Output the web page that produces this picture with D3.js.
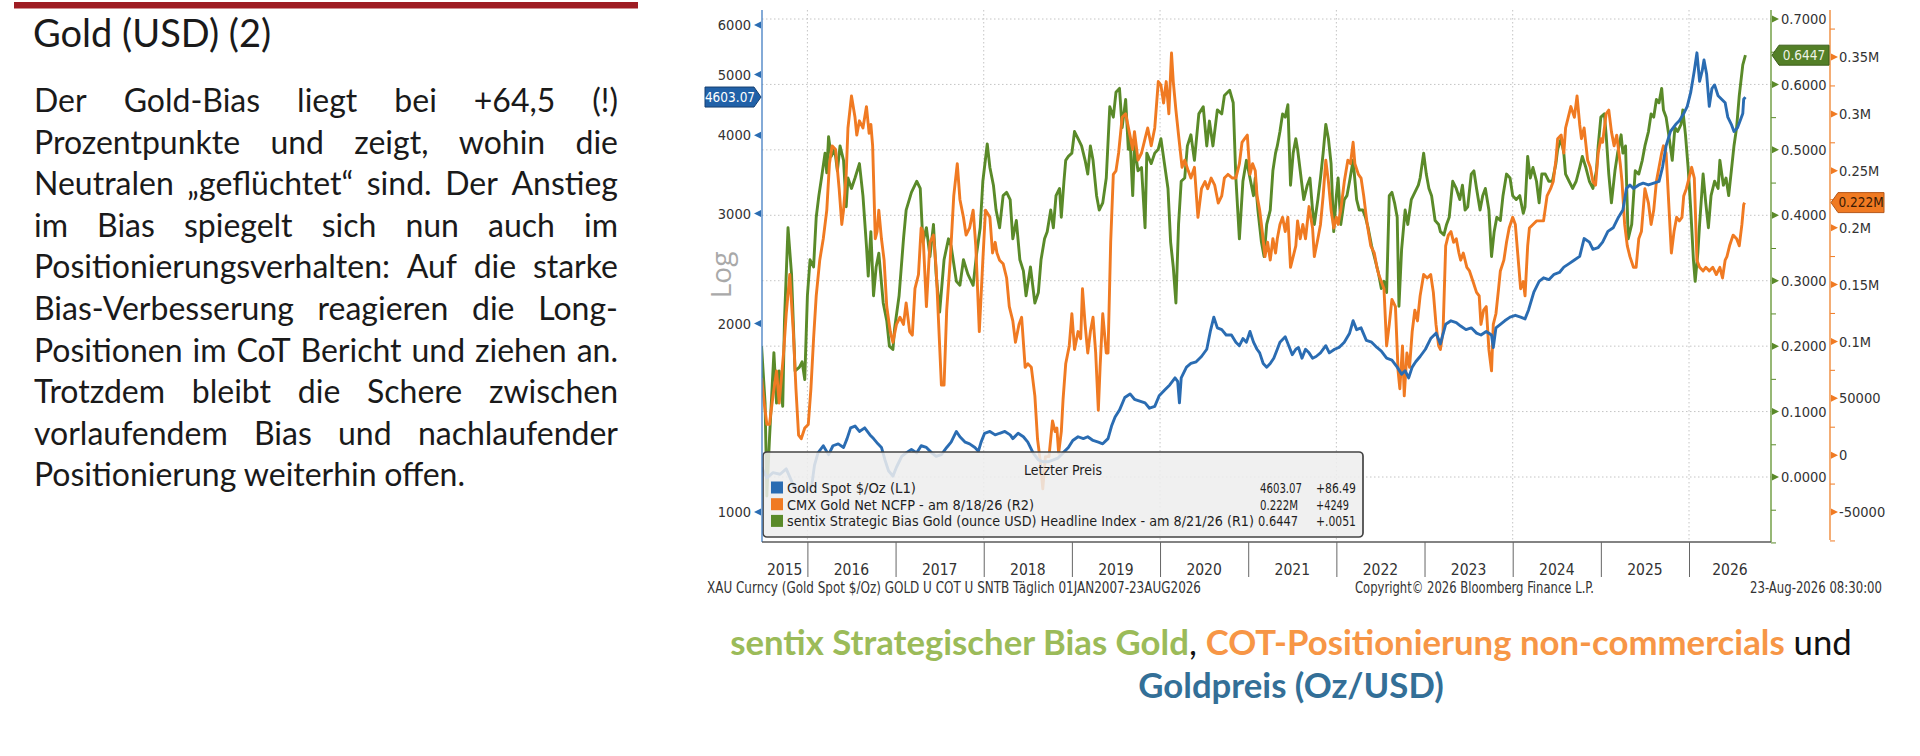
<!DOCTYPE html>
<html>
<head>
<meta charset="utf-8">
<script src="https://cdn.jsdelivr.net/npm/d3@7"></script>
<style>
  body { margin: 0; background: #fff; width: 1920px; height: 756px; overflow: hidden; }
  svg { display: block; }
</style>
</head>
<body>
<svg id="chart" width="1920" height="756"></svg>
<script>
// ---- text content ----
const titleText = "Gold (USD) (2)";
const paragraphLines = [
  "Der Gold-Bias liegt bei +64,5 (!)",
  "Prozentpunkte und zeigt, wohin die",
  "Neutralen \u201Egeflüchtet\u201C sind. Der Anstieg",
  "im Bias spiegelt sich nun auch im",
  "Positionierungsverhalten: Auf die starke",
  "Bias-Verbesserung reagieren die Long-",
  "Positionen im CoT Bericht und ziehen an.",
  "Trotzdem bleibt die Schere zwischen",
  "vorlaufendem Bias und nachlaufender",
  "Positionierung weiterhin offen."
];

// ---- axis ticks / labels ----
const goldTicks = [1000, 2000, 3000, 4000, 5000, 6000];
const biasTicks = [0, 0.1, 0.2, 0.3, 0.4, 0.5, 0.6, 0.7];
const biasMinor = [-0.1, -0.05, 0.05, 0.15, 0.25, 0.35, 0.45, 0.55, 0.65];
const cotTicks = [-50, 0, 50, 100, 150, 200, 250, 300, 350];          // thousand contracts
const cotTickLabels = ["-50000", "0", "50000", "0.1M", "0.15M", "0.2M", "0.25M", "0.3M", "0.35M"];
const cotMinor = [-75, -25, 25, 75, 125, 175, 225, 275, 325, 375];
const yearStarts = [2016, 2017, 2018, 2019, 2020, 2021, 2022, 2023, 2024, 2025, 2026];
const yearLabels = ["2015", "2016", "2017", "2018", "2019", "2020", "2021", "2022", "2023", "2024", "2025", "2026"];
const gridYears = [2016, 2018, 2020, 2022, 2024, 2026];

// ---- legend ----
const legendLabels = [
  "Gold Spot $/Oz  (L1)",
  "CMX Gold Net NCFP -  am 8/18/26  (R2)",
  "sentix Strategic Bias Gold (ounce USD) Headline Index -  am 8/21/26  (R1)"
];
const legendValues = ["4603.07", "0.222M", "0.6447"];
const legendChanges = ["+86.49", "+4249", "+.0051"];
const lastGold = 4603.07, lastCot = 222.0, lastBias = 0.6447;

// ---- series: [decimal year, value] ----
// Gold spot $/oz (left, log)
const goldSeries = [
[2015.48,1179],[2015.54,1134],[2015.61,1156],[2015.69,1149],[2015.76,1172],[2015.84,1104],[2015.91,1076],[2015.99,1083],[2016.05,1104],[2016.08,1187],[2016.12,1243],[2016.18,1276],[2016.24,1235],[2016.29,1276],[2016.35,1285],[2016.41,1268],[2016.45,1310],[2016.49,1363],[2016.54,1372],[2016.59,1345],[2016.65,1363],[2016.71,1328],[2016.75,1310],[2016.80,1285],[2016.84,1268],[2016.88,1211],[2016.92,1164],[2016.97,1141],[2017.01,1179],[2017.07,1227],[2017.12,1243],[2017.18,1259],[2017.24,1243],[2017.29,1276],[2017.35,1268],[2017.41,1243],[2017.46,1227],[2017.52,1235],[2017.58,1268],[2017.63,1293],[2017.69,1345],[2017.73,1319],[2017.79,1293],[2017.84,1285],[2017.90,1268],[2017.94,1251],[2017.97,1293],[2018.01,1336],[2018.07,1345],[2018.13,1328],[2018.18,1336],[2018.24,1345],[2018.30,1328],[2018.33,1310],[2018.39,1336],[2018.45,1319],[2018.50,1293],[2018.56,1243],[2018.62,1211],[2018.67,1203],[2018.73,1203],[2018.79,1211],[2018.84,1219],[2018.90,1243],[2018.96,1268],[2019.01,1301],[2019.07,1319],[2019.13,1310],[2019.18,1319],[2019.24,1301],[2019.30,1293],[2019.35,1285],[2019.41,1310],[2019.45,1372],[2019.49,1418],[2019.54,1455],[2019.60,1524],[2019.66,1544],[2019.71,1514],[2019.77,1504],[2019.83,1494],[2019.88,1465],[2019.94,1475],[2019.99,1534],[2020.05,1565],[2020.11,1596],[2020.17,1638],[2020.20,1617],[2020.22,1494],[2020.24,1638],[2020.30,1704],[2020.35,1727],[2020.41,1738],[2020.47,1772],[2020.53,1820],[2020.57,1943],[2020.61,2048],[2020.65,1969],[2020.70,1956],[2020.75,1918],[2020.81,1918],[2020.86,1868],
[2020.90,1844],[2020.94,1893],[2020.98,1868],[2021.02,1943],[2021.06,1868],[2021.10,1820],[2021.13,1796],[2021.17,1727],[2021.21,1704],[2021.25,1727],[2021.29,1761],[2021.33,1820],[2021.36,1868],[2021.42,1905],[2021.46,1844],[2021.50,1784],[2021.54,1820],[2021.57,1832],[2021.61,1761],[2021.65,1820],[2021.69,1796],[2021.73,1761],[2021.77,1772],[2021.82,1796],[2021.88,1844],[2021.92,1796],[2021.98,1820],[2022.03,1832],[2022.09,1868],[2022.15,1931],[2022.19,2021],[2022.23,1956],[2022.28,1969],[2022.34,1880],[2022.40,1868],[2022.46,1832],[2022.51,1808],[2022.57,1761],[2022.63,1749],[2022.69,1704],[2022.74,1660],[2022.78,1682],[2022.82,1638],[2022.86,1704],[2022.90,1738],[2022.95,1772],[2023.01,1820],[2023.07,1893],[2023.13,1931],[2023.18,1856],[2023.24,1995],[2023.30,2021],[2023.36,2008],[2023.41,1982],[2023.47,1956],[2023.53,1969],[2023.59,1931],[2023.64,1918],[2023.70,1943],[2023.76,1918],[2023.78,1832],[2023.81,1969],[2023.86,1995],[2023.91,2021],[2023.97,2048],[2024.03,2062],[2024.09,2048],[2024.14,2035],[2024.18,2103],[2024.24,2246],[2024.30,2336],[2024.35,2367],[2024.41,2351],[2024.47,2398],[2024.53,2414],[2024.58,2462],[2024.64,2494],[2024.70,2527],[2024.76,2561],[2024.81,2735],[2024.87,2699],[2024.91,2629],[2024.97,2646],[2025.02,2699],[2025.08,2808],[2025.14,2845],[2025.20,2959],[2025.25,3038],[2025.29,3287],[2025.33,3331],[2025.37,3287],[2025.43,3331],[2025.48,3353],[2025.54,3331],[2025.60,3353],[2025.66,3375],[2025.70,3557],[2025.74,3848],[2025.79,4056],[2025.85,4164],[2025.89,4219],[2025.94,4332],[2025.98,4447],[2026.02,4687],[2026.06,5072],[2026.09,5416],[2026.12,4876],[2026.15,5072],[2026.17,5276],[2026.20,5005],[2026.23,4447],[2026.26,4750],[2026.29,4813],[2026.33,4626],[2026.37,4566],[2026.41,4506],[2026.44,4275],[2026.48,4164],[2026.51,4056],[2026.55,4110],[2026.58,4219],[2026.61,4332],[2026.62,4566],[2026.64,4603.07]
];

// CMX gold net non-commercial positions, thousand contracts (right 2)
const cotSeries = [
[2015.48,67.8],[2015.51,45.8],[2015.54,27.0],[2015.57,27.0],[2015.61,52.1],[2015.65,74.1],[2015.68,45.8],[2015.73,89.8],[2015.76,124.3],[2015.80,158.8],[2015.84,108.6],[2015.87,58.4],[2015.90,17.5],[2015.93,14.4],[2015.97,23.8],[2016.01,27.0],[2016.04,58.4],[2016.07,102.3],[2016.10,140.0],[2016.14,171.4],[2016.18,190.2],[2016.22,215.4],[2016.25,256.2],[2016.28,271.9],[2016.32,268.7],[2016.36,234.2],[2016.39,202.8],[2016.41,215.4],[2016.44,246.8],[2016.46,287.6],[2016.50,315.8],[2016.54,297.0],[2016.56,281.3],[2016.59,293.9],[2016.63,287.6],[2016.67,306.4],[2016.70,282.9],[2016.72,290.7],[2016.74,271.9],[2016.77,190.2],[2016.79,196.5],[2016.81,215.4],[2016.84,190.2],[2016.87,171.4],[2016.90,130.6],[2016.94,108.6],[2016.97,99.2],[2017.01,114.9],[2017.05,121.2],[2017.09,114.9],[2017.12,133.7],[2017.16,108.6],[2017.19,105.5],[2017.22,146.3],[2017.26,158.8],[2017.29,199.7],[2017.31,196.5],[2017.35,130.6],[2017.39,187.1],[2017.43,193.4],[2017.46,165.1],[2017.52,61.5],[2017.55,61.5],[2017.58,127.4],[2017.62,171.4],[2017.66,227.9],[2017.70,256.2],[2017.73,224.8],[2017.77,209.1],[2017.80,193.4],[2017.84,199.7],[2017.88,215.4],[2017.91,184.0],[2017.95,108.6],[2017.99,171.4],[2018.02,215.4],[2018.07,209.1],[2018.10,177.7],[2018.13,187.1],[2018.15,177.7],[2018.18,171.4],[2018.22,168.3],[2018.26,155.7],[2018.29,130.6],[2018.33,118.0],[2018.36,99.2],[2018.40,114.9],[2018.43,121.2],[2018.47,77.2],[2018.50,80.3],[2018.54,77.2],[2018.58,52.1],[2018.61,14.4],[2018.64,-4.4],[2018.67,-29.6],[2018.70,-1.3],[2018.74,-1.3],[2018.78,30.1],[2018.81,20.7],[2018.83,23.8],[2018.85,1.8],[2018.88,20.7],[2018.90,49.0],[2018.93,80.3],[2018.97,96.0],[2019.00,124.3],[2019.03,92.9],[2019.07,108.6],[2019.10,102.3],[2019.12,146.3],[2019.15,114.9],[2019.18,89.8],[2019.21,108.6],[2019.24,121.2],[2019.27,89.8],[2019.30,39.5],[2019.32,77.2],[2019.35,124.3],[2019.39,89.8],[2019.41,89.8],[2019.44,187.1],[2019.47,246.8],[2019.50,249.9],[2019.53,265.6],[2019.57,297.0],[2019.61,300.1],[2019.65,284.4],[2019.69,268.7],[2019.71,284.4],[2019.75,259.3],[2019.79,265.6],[2019.83,278.2],[2019.86,287.6],[2019.90,271.9],[2019.94,287.6],[2019.98,328.4],[2020.01,325.3],[2020.04,309.6],[2020.07,328.4],[2020.10,300.1],[2020.13,353.5],[2020.15,328.4],[2020.18,303.3],[2020.21,281.3],[2020.25,253.0],[2020.28,259.3],[2020.32,249.9],[2020.35,243.6],[2020.39,253.0],[2020.43,209.1],[2020.47,234.2],[2020.51,240.5],[2020.54,234.2],[2020.58,243.6],[2020.62,237.3],[2020.66,221.6],[2020.70,227.9],[2020.73,243.6],[2020.77,246.8],[2020.82,243.6],[2020.86,243.6],
[2020.90,256.2],[2020.93,275.0],[2020.96,278.2],[2020.99,281.3],[2021.02,246.8],[2021.05,256.2],[2021.08,249.9],[2021.10,227.9],[2021.13,215.4],[2021.16,196.5],[2021.19,174.5],[2021.22,187.1],[2021.25,171.4],[2021.28,190.2],[2021.31,177.7],[2021.33,190.2],[2021.36,202.8],[2021.39,209.1],[2021.42,196.5],[2021.45,209.1],[2021.48,165.1],[2021.51,174.5],[2021.54,184.0],[2021.56,205.9],[2021.59,190.2],[2021.62,202.8],[2021.65,190.2],[2021.69,218.5],[2021.73,199.7],[2021.75,174.5],[2021.79,190.2],[2021.82,202.8],[2021.85,227.9],[2021.88,259.3],[2021.91,240.5],[2021.94,215.4],[2021.97,199.7],[2022.00,209.1],[2022.02,202.8],[2022.05,215.4],[2022.09,240.5],[2022.13,259.3],[2022.16,256.2],[2022.19,275.0],[2022.21,256.2],[2022.25,246.8],[2022.28,243.6],[2022.31,227.9],[2022.35,202.8],[2022.39,184.0],[2022.43,177.7],[2022.46,165.1],[2022.48,158.8],[2022.51,152.6],[2022.54,146.3],[2022.57,96.0],[2022.60,114.9],[2022.63,136.9],[2022.67,130.6],[2022.70,74.1],[2022.72,58.4],[2022.75,96.0],[2022.77,52.1],[2022.80,89.8],[2022.83,77.2],[2022.86,108.6],[2022.89,127.4],[2022.92,118.0],[2022.95,140.0],[2022.99,158.8],[2023.03,155.7],[2023.07,158.8],[2023.10,143.1],[2023.13,114.9],[2023.16,96.0],[2023.18,92.9],[2023.21,108.6],[2023.24,184.0],[2023.27,193.4],[2023.30,196.5],[2023.33,187.1],[2023.36,190.2],[2023.39,177.7],[2023.41,171.4],[2023.44,177.7],[2023.48,165.1],[2023.51,161.9],[2023.55,152.6],[2023.59,143.1],[2023.62,140.0],[2023.64,114.9],[2023.67,127.4],[2023.70,130.6],[2023.73,92.9],[2023.76,74.1],[2023.78,114.9],[2023.81,124.3],[2023.84,146.3],[2023.86,161.9],[2023.90,171.4],[2023.93,187.1],[2023.96,199.7],[2024.00,209.1],[2024.03,202.8],[2024.07,165.1],[2024.09,146.3],[2024.12,152.6],[2024.14,140.0],[2024.17,184.0],[2024.19,199.7],[2024.23,202.8],[2024.27,205.9],[2024.31,205.9],[2024.35,205.9],[2024.39,227.9],[2024.43,234.2],[2024.46,240.5],[2024.49,259.3],[2024.51,278.2],[2024.55,281.3],[2024.58,265.6],[2024.60,287.6],[2024.63,297.0],[2024.66,306.4],[2024.70,297.0],[2024.73,315.8],[2024.76,290.7],[2024.78,278.2],[2024.81,287.6],[2024.85,259.3],[2024.88,253.0],[2024.91,240.5],[2024.94,237.3],[2024.97,265.6],[2025.00,278.2],[2025.02,275.0],[2025.06,300.1],[2025.09,303.3],[2025.12,284.4],[2025.15,271.9],[2025.18,281.3],[2025.22,256.2],[2025.24,240.5],[2025.27,202.8],[2025.30,184.0],[2025.33,174.5],[2025.37,165.1],[2025.40,165.1],[2025.43,190.2],[2025.46,196.5],[2025.50,234.2],[2025.54,221.6],[2025.57,202.8],[2025.60,215.4],[2025.63,240.5],[2025.66,253.0],[2025.69,265.6],[2025.71,271.9],[2025.74,265.6],[2025.77,221.6],[2025.80,177.7],[2025.83,196.5],[2025.86,209.1],[2025.89,205.9],[2025.92,209.1],[2025.94,227.9],[2025.97,234.2],[2026.00,243.6],[2026.03,253.0],[2026.06,243.6],[2026.09,171.4],[2026.12,165.1],[2026.16,162.0],[2026.19,165.1],[2026.23,162.0],[2026.27,165.1],[2026.31,158.8],[2026.35,165.1],[2026.38,155.7],[2026.41,171.4],[2026.43,174.5],[2026.46,184.0],[2026.50,193.4],[2026.54,190.2],[2026.57,184.0],[2026.60,202.8],[2026.62,220.1],[2026.63,222.0]
];

// sentix strategic bias gold (right 1)
const biasSeries = [
[2015.48,.200],[2015.52,.113],[2015.54,-.029],[2015.57,.059],[2015.62,.190],[2015.65,.113],[2015.68,.162],[2015.72,.108],[2015.74,.239],[2015.78,.381],[2015.82,.310],[2015.86,.162],[2015.91,.168],[2015.94,.176],[2015.97,.149],[2016.00,.277],[2016.03,.332],[2016.07,.321],[2016.10,.397],[2016.13,.430],[2016.16,.457],[2016.20,.495],[2016.22,.465],[2016.24,.520],[2016.27,.490],[2016.31,.501],[2016.34,.468],[2016.37,.506],[2016.41,.484],[2016.44,.413],[2016.46,.457],[2016.50,.441],[2016.54,.457],[2016.59,.479],[2016.63,.430],[2016.67,.353],[2016.69,.307],[2016.72,.375],[2016.75,.277],[2016.78,.321],[2016.81,.342],[2016.86,.266],[2016.90,.239],[2016.93,.200],[2016.97,.195],[2016.99,.228],[2017.04,.277],[2017.09,.364],[2017.12,.408],[2017.18,.435],[2017.24,.452],[2017.28,.441],[2017.31,.359],[2017.35,.381],[2017.39,.337],[2017.43,.386],[2017.46,.310],[2017.50,.252],[2017.55,.332],[2017.60,.364],[2017.63,.353],[2017.69,.299],[2017.73,.293],[2017.77,.332],[2017.82,.310],[2017.88,.293],[2017.92,.342],[2017.96,.381],[2017.99,.452],[2018.04,.509],[2018.07,.473],[2018.11,.446],[2018.14,.408],[2018.18,.381],[2018.22,.430],[2018.26,.435],[2018.30,.424],[2018.33,.364],[2018.37,.392],[2018.41,.332],[2018.45,.315],[2018.48,.277],[2018.53,.321],[2018.58,.266],[2018.62,.282],[2018.65,.332],[2018.69,.364],[2018.72,.375],[2018.76,.408],[2018.79,.381],[2018.82,.430],[2018.86,.441],[2018.88,.397],[2018.91,.452],[2018.93,.484],[2018.96,.490],[2019.00,.495],[2019.03,.528],[2019.07,.517],[2019.11,.506],[2019.15,.484],[2019.18,.463],[2019.21,.506],[2019.24,.484],[2019.28,.430],[2019.31,.408],[2019.35,.419],[2019.39,.457],[2019.43,.566],[2019.47,.550],[2019.50,.588],[2019.54,.594],[2019.57,.534],[2019.61,.577],[2019.64,.501],[2019.66,.517],[2019.69,.430],[2019.71,.506],[2019.75,.468],[2019.79,.473],[2019.83,.381],[2019.85,.495],[2019.90,.479],[2019.94,.495],[2019.98,.501],[2020.01,.517],[2020.05,.479],[2020.09,.441],[2020.12,.359],[2020.15,.321],[2020.18,.266],[2020.21,.386],[2020.24,.452],[2020.28,.457],[2020.31,.506],[2020.35,.523],[2020.39,.484],[2020.44,.555],[2020.49,.566],[2020.53,.506],[2020.56,.544],[2020.60,.506],[2020.65,.561],[2020.70,.555],[2020.73,.583],[2020.79,.591],[2020.83,.572],[2020.86,.457],
[2020.90,.364],[2020.94,.452],[2020.98,.484],[2021.02,.457],[2021.06,.430],[2021.08,.457],[2021.11,.408],[2021.15,.359],[2021.18,.337],[2021.21,.386],[2021.25,.408],[2021.28,.468],[2021.31,.495],[2021.33,.506],[2021.36,.528],[2021.39,.555],[2021.42,.550],[2021.45,.569],[2021.48,.446],[2021.51,.495],[2021.54,.517],[2021.56,.501],[2021.59,.468],[2021.63,.424],[2021.67,.446],[2021.70,.457],[2021.73,.408],[2021.75,.386],[2021.79,.424],[2021.82,.457],[2021.85,.495],[2021.88,.539],[2021.91,.517],[2021.94,.479],[2021.97,.375],[2022.00,.430],[2022.02,.457],[2022.05,.386],[2022.09,.424],[2022.12,.430],[2022.15,.452],[2022.19,.484],[2022.23,.424],[2022.26,.408],[2022.30,.408],[2022.33,.397],[2022.36,.381],[2022.40,.353],[2022.44,.332],[2022.48,.310],[2022.51,.288],[2022.54,.299],[2022.57,.282],[2022.60,.430],[2022.63,.435],[2022.66,.419],[2022.69,.397],[2022.71,.261],[2022.74,.348],[2022.78,.408],[2022.81,.386],[2022.85,.424],[2022.89,.435],[2022.93,.446],[2022.95,.457],[2022.99,.495],[2023.02,.463],[2023.05,.441],[2023.08,.430],[2023.12,.392],[2023.16,.386],[2023.18,.375],[2023.22,.370],[2023.25,.386],[2023.28,.397],[2023.32,.452],[2023.36,.441],[2023.40,.424],[2023.43,.446],[2023.46,.408],[2023.49,.413],[2023.53,.463],[2023.56,.468],[2023.59,.441],[2023.63,.408],[2023.66,.430],[2023.69,.441],[2023.73,.408],[2023.76,.337],[2023.79,.375],[2023.82,.397],[2023.86,.392],[2023.89,.430],[2023.93,.463],[2023.97,.457],[2024.00,.430],[2024.04,.424],[2024.08,.430],[2024.12,.403],[2024.14,.413],[2024.17,.490],[2024.20,.457],[2024.23,.473],[2024.27,.452],[2024.30,.419],[2024.33,.463],[2024.37,.463],[2024.41,.452],[2024.45,.452],[2024.49,.479],[2024.51,.501],[2024.55,.517],[2024.58,.495],[2024.60,.463],[2024.64,.452],[2024.68,.441],[2024.72,.452],[2024.76,.473],[2024.79,.490],[2024.83,.473],[2024.87,.452],[2024.91,.441],[2024.95,.468],[2024.97,.506],[2025.00,.550],[2025.04,.555],[2025.06,.523],[2025.09,.463],[2025.12,.419],[2025.16,.468],[2025.19,.495],[2025.23,.523],[2025.25,.495],[2025.28,.506],[2025.31,.364],[2025.35,.386],[2025.39,.468],[2025.43,.463],[2025.47,.484],[2025.50,.506],[2025.54,.528],[2025.57,.555],[2025.60,.550],[2025.63,.577],[2025.66,.572],[2025.69,.594],[2025.71,.561],[2025.74,.550],[2025.77,.523],[2025.81,.484],[2025.84,.534],[2025.87,.528],[2025.91,.539],[2025.93,.561],[2025.96,.523],[2025.99,.473],[2026.02,.408],[2026.05,.332],[2026.07,.299],[2026.10,.342],[2026.12,.386],[2026.16,.463],[2026.19,.419],[2026.22,.381],[2026.25,.430],[2026.29,.452],[2026.33,.441],[2026.35,.484],[2026.39,.446],[2026.42,.457],[2026.45,.430],[2026.48,.468],[2026.51,.506],[2026.54,.534],[2026.57,.583],[2026.61,.630],[2026.64,.6447]
];

// ---- colours / fonts ----
const cGold = "#2a6cb2", cCot = "#f07a22", cBias = "#5a8a29";
const bbFont = "'Liberation Sans Narrow', 'Arial Narrow', 'DejaVu Sans Condensed', 'Liberation Sans', sans-serif";
const bodyFont = "Lato, 'Open Sans', sans-serif";

const svg = d3.select("#chart");
const plot = { left: 762, right: 1771, top: 10, bottom: 542 };

// ---- scales ----
const x = d3.scaleLinear().domain([2015.485, 2026.93]).range([plot.left, plot.right]);
const yGold = d3.scaleLog().domain([1000, 6000]).range([512, 25]);
const yBias = d3.scaleLinear().domain([0, 0.7]).range([477, 19]);
const yCot = d3.scaleLinear().domain([-50, 350]).range([512, 57]);

// ================= left text block =================
svg.append("rect").attr("x", 14).attr("y", 2).attr("width", 624).attr("height", 6.5).attr("fill", "#9e1c23");
svg.append("text").attr("x", 33).attr("y", 47)
  .attr("font-family", bodyFont).attr("font-size", 38).attr("fill", "#1a1a1a")
  .text(titleText);

const textLeft = 34, textRight = 618;
paragraphLines.forEach((line, i) => {
  const y = 112 + i * 41.6;
  const words = line.split(" ");
  const g = svg.append("g").attr("font-family", bodyFont).attr("font-size", 32).attr("fill", "#1a1a1a");
  const nodes = words.map(w => g.append("text").attr("y", y).text(w));
  const widths = nodes.map(n => n.node().getComputedTextLength());
  const justify = i < paragraphLines.length - 1;
  const gap = justify ? (textRight - textLeft - d3.sum(widths)) / (words.length - 1) : 7.5;
  let cx = textLeft;
  nodes.forEach((n, j) => { n.attr("x", cx); cx += widths[j] + gap; });
});

// ================= grid =================
const grid = svg.append("g").attr("stroke", "#c4c4c4").attr("stroke-width", 1).attr("stroke-dasharray", "1.5,2.5");
grid.selectAll("line.h").data(biasTicks).join("line")
  .attr("x1", plot.left).attr("x2", plot.right)
  .attr("y1", d => yBias(d)).attr("y2", d => yBias(d));
grid.selectAll("line.v").data(gridYears).join("line")
  .attr("x1", d => x(d)).attr("x2", d => x(d))
  .attr("y1", plot.top).attr("y2", plot.bottom);

// ================= series =================
svg.append("clipPath").attr("id", "plotClip").append("rect")
  .attr("x", plot.left).attr("y", plot.top)
  .attr("width", plot.right - plot.left).attr("height", plot.bottom - plot.top);
const series = svg.append("g").attr("clip-path", "url(#plotClip)")
  .attr("fill", "none").attr("stroke-width", 2.9).attr("stroke-linejoin", "round");
series.append("path").datum(biasSeries).attr("stroke", cBias)
  .attr("d", d3.line().x(d => x(d[0])).y(d => yBias(d[1])));
series.append("path").datum(cotSeries).attr("stroke", cCot)
  .attr("d", d3.line().x(d => x(d[0])).y(d => yCot(d[1])));
series.append("path").datum(goldSeries).attr("stroke", cGold)
  .attr("d", d3.line().x(d => x(d[0])).y(d => yGold(d[1])));

// ================= legend =================
const lg = svg.append("g").attr("font-family", bbFont).attr("font-size", 14).attr("fill", "#1e1e1e");
lg.append("rect").attr("x", 763).attr("y", 452).attr("width", 600).attr("height", 85).attr("rx", 4)
  .attr("fill", "#ededed").attr("fill-opacity", 0.86).attr("stroke", "#444").attr("stroke-width", 1.7);
lg.append("text").attr("x", 1063).attr("y", 475).attr("text-anchor", "middle").attr("textLength", 78)
  .attr("lengthAdjust", "spacingAndGlyphs").text("Letzter Preis");
const legendColors = [cGold, cCot, cBias];
const labelWidths = [129, 247, 467];
const valueWidths = [42, 38, 40];
const changeWidths = [40, 33, 40];
legendLabels.forEach((lab, i) => {
  const by = 493 + i * 16.7;
  lg.append("rect").attr("x", 771).attr("y", by - 11.5).attr("width", 12).attr("height", 12).attr("fill", legendColors[i]);
  lg.append("text").attr("x", 787).attr("y", by).attr("textLength", labelWidths[i]).attr("lengthAdjust", "spacingAndGlyphs").text(lab);
  lg.append("text").attr("x", i === 2 ? 1258 : 1260).attr("y", by).attr("textLength", valueWidths[i])
    .attr("lengthAdjust", "spacingAndGlyphs").text(legendValues[i]);
  lg.append("text").attr("x", 1316).attr("y", by).attr("textLength", changeWidths[i])
    .attr("lengthAdjust", "spacingAndGlyphs").text(legendChanges[i]);
});

// ================= axes =================
const tickText = sel => sel.selectAll("text").attr("font-family", bbFont).attr("font-size", 14.5).attr("fill", "#333");

// left gold axis (log)
const axL = svg.append("g").attr("transform", `translate(${plot.left},0)`)
  .call(d3.axisLeft(yGold).tickValues(goldTicks).tickFormat(d3.format("d")).tickSize(0).tickPadding(11));
axL.select(".domain").remove();
tickText(axL);
svg.append("line").attr("x1", plot.left).attr("x2", plot.left).attr("y1", plot.top).attr("y2", plot.bottom)
  .attr("stroke", "#4f86c6").attr("stroke-width", 1.4);
svg.append("g").selectAll("path").data(goldTicks).join("path")
  .attr("d", d => `M${plot.left - 8},${yGold(d)} L${plot.left - 1},${yGold(d) - 3.5} L${plot.left - 1},${yGold(d) + 3.5} Z`)
  .attr("fill", "#2b6db3");

// right bias axis
const axB = svg.append("g").attr("transform", `translate(${plot.right},0)`)
  .call(d3.axisRight(yBias).tickValues(biasTicks).tickFormat(d3.format(".4f")).tickSize(0).tickPadding(10));
axB.select(".domain").remove();
tickText(axB);
const axBm = svg.append("g").attr("transform", `translate(${plot.right},0)`)
  .call(d3.axisRight(yBias).tickValues(biasMinor).tickFormat("").tickSize(5));
axBm.select(".domain").remove();
axBm.selectAll("line").attr("stroke", cBias);
svg.append("line").attr("x1", plot.right).attr("x2", plot.right).attr("y1", plot.top).attr("y2", plot.bottom)
  .attr("stroke", "#6a9a3c").attr("stroke-width", 1.4);
svg.append("g").selectAll("path").data(biasTicks).join("path")
  .attr("d", d => `M${plot.right + 8},${yBias(d)} L${plot.right + 1},${yBias(d) - 3.5} L${plot.right + 1},${yBias(d) + 3.5} Z`)
  .attr("fill", cBias);

// right COT axis
const cotX = 1830;
const axC = svg.append("g").attr("transform", `translate(${cotX},0)`)
  .call(d3.axisRight(yCot).tickValues(cotTicks).tickFormat((d, i) => cotTickLabels[i]).tickSize(0).tickPadding(9));
axC.select(".domain").remove();
tickText(axC);
const axCm = svg.append("g").attr("transform", `translate(${cotX},0)`)
  .call(d3.axisRight(yCot).tickValues(cotMinor).tickFormat("").tickSize(5));
axCm.select(".domain").remove();
axCm.selectAll("line").attr("stroke", cCot);
svg.append("line").attr("x1", cotX).attr("x2", cotX).attr("y1", plot.top).attr("y2", 540)
  .attr("stroke", "#f08a3a").attr("stroke-width", 1.4);
svg.append("g").selectAll("path").data(cotTicks).join("path")
  .attr("d", d => `M${cotX + 8},${yCot(d)} L${cotX + 1},${yCot(d) - 3.5} L${cotX + 1},${yCot(d) + 3.5} Z`)
  .attr("fill", cCot);

// "Log" label
svg.append("text").attr("transform", "translate(731,275) rotate(-90)").attr("text-anchor", "middle")
  .attr("font-family", "'Open Sans', sans-serif").attr("font-size", 28).attr("fill", "#a9a9a9").text("Log");

// x axis
svg.append("line").attr("x1", plot.left).attr("x2", plot.right).attr("y1", plot.bottom).attr("y2", plot.bottom)
  .attr("stroke", "#5a5a5a").attr("stroke-width", 1.3);
const axX = svg.append("g").attr("transform", `translate(0,${plot.bottom})`)
  .call(d3.axisBottom(x).tickValues(yearStarts).tickFormat("").tickSize(35));
axX.select(".domain").remove();
axX.selectAll("line").attr("stroke", "#666");
const yearBounds = [x.domain()[0], ...yearStarts, x.domain()[1]];
svg.append("g").attr("font-family", bbFont).attr("font-size", 15.5).attr("fill", "#333").attr("text-anchor", "middle")
  .selectAll("text").data(yearLabels).join("text")
  .attr("x", (d, i) => (x(yearBounds[i]) + x(yearBounds[i + 1])) / 2)
  .attr("y", 575).text(d => d);

// footer lines
const foot = svg.append("g").attr("font-family", bbFont).attr("font-size", 15).attr("fill", "#333");
foot.append("text").attr("x", 707).attr("y", 593).attr("textLength", 494).attr("lengthAdjust", "spacingAndGlyphs")
  .text("XAU Curncy (Gold Spot   $/Oz) GOLD U COT U SNTB Täglich 01JAN2007-23AUG2026");
foot.append("text").attr("x", 1355).attr("y", 593).attr("textLength", 239).attr("lengthAdjust", "spacingAndGlyphs")
  .text("Copyright\u00A9 2026 Bloomberg Finance L.P.");
foot.append("text").attr("x", 1750).attr("y", 593).attr("textLength", 132).attr("lengthAdjust", "spacingAndGlyphs")
  .text("23-Aug-2026 08:30:00");

// ---- last-value tags ----
const tagFont = 13.5;
const gy = yGold(lastGold);
svg.append("path").attr("d", `M705,${gy - 10} H754 L761,${gy} L754,${gy + 10} H705 Z`)
  .attr("fill", "#2161a8").attr("stroke", "#163f70").attr("stroke-width", 1);
svg.append("text").attr("x", 730).attr("y", gy + 4.8).attr("text-anchor", "middle").attr("font-family", bbFont)
  .attr("font-size", tagFont).attr("fill", "#fff").text(legendValues[0]);

const by0 = yBias(lastBias);
svg.append("path").attr("d", `M1772,${by0} L1779,${by0 - 10} H1829 V${by0 + 10} H1779 Z`)
  .attr("fill", "#537f27").attr("stroke", "#3d5f1c").attr("stroke-width", 1);
svg.append("text").attr("x", 1804).attr("y", by0 + 4.8).attr("text-anchor", "middle").attr("font-family", bbFont)
  .attr("font-size", tagFont).attr("fill", "#eef3e6").text(legendValues[2]);

const cy0 = yCot(lastCot);
svg.append("path").attr("d", `M1831,${cy0} L1838,${cy0 - 10} H1884 V${cy0 + 10} H1838 Z`)
  .attr("fill", "#f07a22").attr("stroke", "#b5581a").attr("stroke-width", 1);
svg.append("text").attr("x", 1861).attr("y", cy0 + 4.8).attr("text-anchor", "middle").attr("font-family", bbFont)
  .attr("font-size", tagFont).attr("fill", "#3a1a05").text(legendValues[1]);

// ================= caption =================
const capParts1 = [
  { t: "sentix Strategischer Bias Gold", c: "#9bbb59" },
  { t: ", ", c: "#111" },
  { t: "COT-Positionierung non-commercials", c: "#f79646" },
  { t: " und", c: "#111" }
];
const cap1 = svg.append("text").attr("x", 1291).attr("y", 655).attr("text-anchor", "middle")
  .attr("font-family", bodyFont).attr("font-size", 28);
capParts1.forEach(p => cap1.append("tspan").attr("fill", p.c).attr("font-weight", p.c === "#111" ? 400 : 700).text(p.t));
const capW = cap1.node().getComputedTextLength();
const capSize = 28 * 1122 / capW;
cap1.attr("font-size", capSize);
svg.append("text").attr("x", 1291).attr("y", 698).attr("text-anchor", "middle")
  .attr("font-family", bodyFont).attr("font-size", capSize).attr("font-weight", 700).attr("fill", "#336f97")
  .text("Goldpreis (Oz/USD)");
</script>
</body>
</html>
